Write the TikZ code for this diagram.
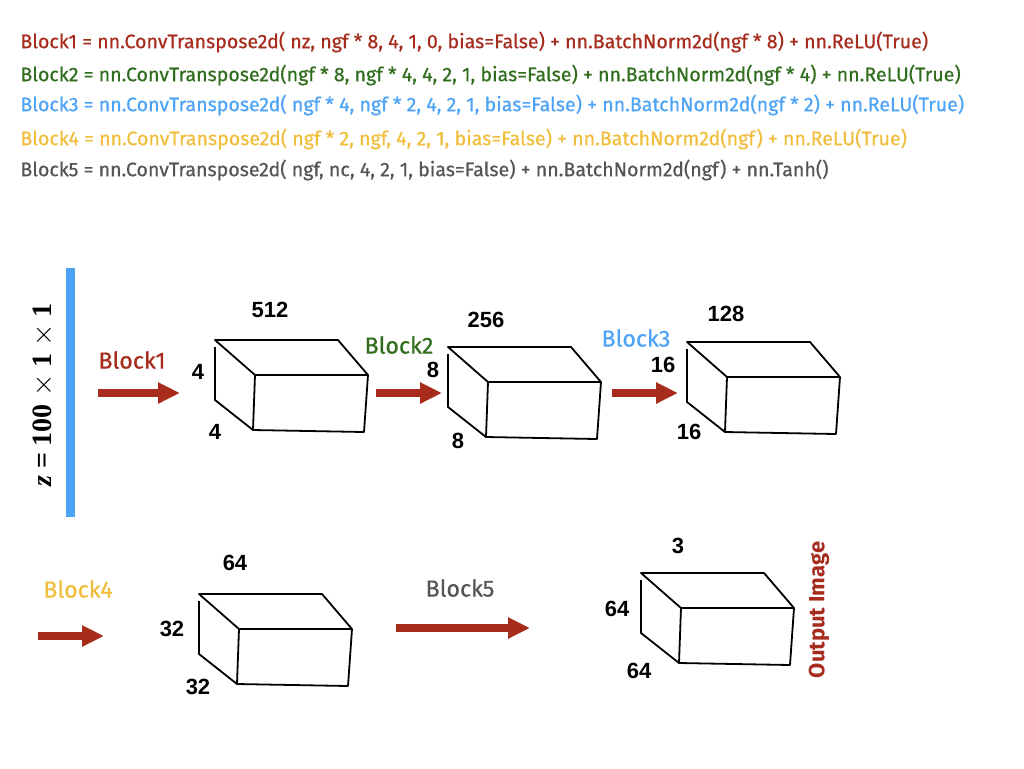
\documentclass[tikz,border=0pt]{standalone}
\usepackage{fontspec}
\usepackage{amsmath}
\setmainfont{Liberation Sans}
\newfontfamily\chalk[FakeBold=0.6]{Fira Sans}
\newfontfamily\chalkbold{Fira Sans}
\newfontfamily\timesf{Liberation Serif}
\usetikzlibrary{positioning,arrows.meta}
\definecolor{blkred}{RGB}{166,44,30}
\definecolor{blkgreen}{RGB}{48,110,30}
\definecolor{blkblue}{RGB}{77,163,245}
\definecolor{blkyellow}{RGB}{240,190,60}
\definecolor{blkgray}{RGB}{85,85,85}
\definecolor{arrowred}{RGB}{168,44,28}

\begin{document}
\begin{tikzpicture}[
x=0.5pt, y=-0.5pt,
code/.style={
  anchor=west,
  inner sep=0pt,
  font=\chalk\fontsize{9.8}{11}\selectfont
  },
blocklab/.style={
  inner sep=0pt,
  font=\chalk\fontsize{11.6}{13}\selectfont
  },
dimlab/.style={
  inner sep=0pt,
  font=\bfseries\fontsize{11}{13}\selectfont
  },
flow/.style={
  draw=arrowred,
  line width=4pt,
  -{Triangle[length=11pt,width=10pt]}
  },
cube/.style={
  draw,
  line width=0.9pt,
  line join=round
  }
]
\useasboundingbox (0,0) rectangle (1024,768);

% layer definitions
\node[code, text=blkred] (l1) at (20,42)
  {Block1 = nn.ConvTranspose2d( nz, ngf * 8, 4, 1, 0, bias=False) + nn.BatchNorm2d(ngf * 8) + nn.ReLU(True)};
\node[code, text=blkgreen] (l2) at (20,75)
  {Block2 = nn.ConvTranspose2d(ngf * 8, ngf * 4, 4, 2, 1, bias=False) + nn.BatchNorm2d(ngf * 4) + nn.ReLU(True)};
\node[code, text=blkblue] (l3) at (20,105)
  {Block3 = nn.ConvTranspose2d( ngf * 4, ngf * 2, 4, 2, 1, bias=False) + nn.BatchNorm2d(ngf * 2) + nn.ReLU(True)};
\node[code, text=blkyellow] (l4) at (20,139)
  {Block4 = nn.ConvTranspose2d( ngf * 2, ngf, 4, 2, 1, bias=False) + nn.BatchNorm2d(ngf) + nn.ReLU(True)};
\node[code, text=blkgray] (l5) at (20,170)
  {Block5 = nn.ConvTranspose2d( ngf, nc, 4, 2, 1, bias=False) + nn.BatchNorm2d(ngf) + nn.Tanh()};

% input vector
\node[fill=blkblue, inner sep=0pt, minimum width=4.5pt, minimum height=124.5pt] (zbar) at (70.5,392.5) {};
\node[rotate=90, inner sep=0pt, font=\timesf\bfseries\fontsize{14}{16}\selectfont] (zlab) at (43,395)
  {\textit{z} = 100 $\times$ 1 $\times$ 1};

% feature maps
\foreach \fx/\fy [count=\k] in {255/375, 488/382, 727/377, 239/629, 681/608}
{
  \coordinate (box\k) at (\fx,\fy);
  \draw[cube] (\fx-40,\fy-35) -- (\fx+83,\fy-35) -- (\fx+113,\fy) -- (\fx,\fy) -- cycle;
  \draw[cube] (\fx,\fy) -- (\fx-2,\fy+55) -- (\fx+109,\fy+57) -- (\fx+113,\fy);
  \draw[cube] (\fx-40,\fy-28) -- (\fx-40,\fy+25) -- (\fx-2,\fy+55);
}

\node[dimlab] (c1) at (270,310) {512};
\node[dimlab] (h1) at (198,372) {4};
\node[dimlab] (w1) at (215,432) {4};
\node[dimlab] (c2) at (486,320) {256};
\node[dimlab] (h2) at (433,370) {8};
\node[dimlab] (w2) at (458,441) {8};
\node[dimlab] (c3) at (726,314) {128};
\node[dimlab] (h3) at (663,365) {16};
\node[dimlab] (w3) at (689,432) {16};
\node[dimlab] (c4) at (235,563) {64};
\node[dimlab] (h4) at (172,629) {32};
\node[dimlab] (w4) at (198,687) {32};
\node[dimlab] (c5) at (678,546) {3};
\node[dimlab] (h5) at (617,609) {64};
\node[dimlab] (w5) at (639,671) {64};

% block arrows
\coordinate (a1s) at (98,393);
\coordinate (a1e) at (180,393);
\coordinate (a2s) at (376,393);
\coordinate (a2e) at (442,393);
\coordinate (a3s) at (612,393);
\coordinate (a3e) at (678,393);
\coordinate (a4s) at (38,636);
\coordinate (a4e) at (104,636);
\coordinate (a5s) at (396,628);
\coordinate (a5e) at (530,628);
\foreach \i in {1,...,5}
  \draw[flow] (a\i s) -- (a\i e);

\node[blocklab, text=blkred] (b1) at (132,360) {Block1};
\node[blocklab, text=blkgreen] (b2) at (399,345) {Block2};
\node[blocklab, text=blkblue] (b3) at (636,338) {Block3};
\node[blocklab, text=blkyellow] (b4) at (78,589) {Block4};
\node[blocklab, text=blkgray] (b5) at (460,588) {Block5};

\node[rotate=90, inner sep=0pt, text=blkred, font=\chalkbold\bfseries\fontsize{11}{13}\selectfont] (outlab) at (819,610) {Output Image};
\end{tikzpicture}
\end{document}
